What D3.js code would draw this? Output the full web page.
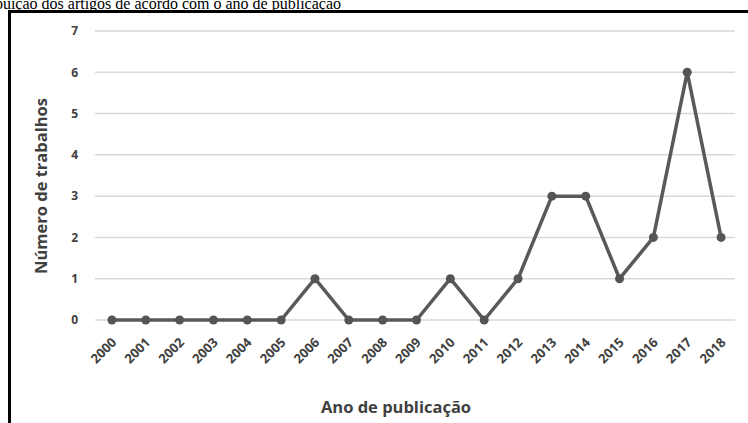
<!DOCTYPE html>
<html>
<head>
<meta charset="utf-8">
<script src="https://cdn.jsdelivr.net/npm/d3@7"></script>
<style>
  body { margin: 0; background: #fff; }
  svg { display: block; }
</style>
</head>
<body>
<div id="chart"></div>
<script>
// Chart data
var years = ["2000", "2001", "2002", "2003", "2004", "2005", "2006", "2007", "2008", "2009",
  "2010", "2011", "2012", "2013", "2014", "2015", "2016", "2017", "2018"];
var counts = [0, 0, 0, 0, 0, 0, 1, 0, 0, 0, 1, 0, 1, 3, 3, 1, 2, 6, 2];
var yTicks = [0, 1, 2, 3, 4, 5, 6, 7];

var svgWidth = 748;
var svgHeight = 423;
var labelFont = "'Open Sans', 'Liberation Sans', sans-serif";

var svg = d3.select("#chart")
  .append("svg")
  .attr("width", svgWidth)
  .attr("height", svgHeight);

// Caption text from the page, partly cut off at the left and top
svg.append("text")
  .attr("x", 341)
  .attr("y", 9)
  .attr("text-anchor", "end")
  .style("font-family", "'Liberation Serif', 'Times New Roman', serif")
  .style("font-size", "16px")
  .style("fill", "#000")
  .text("Distribuição dos artigos de acordo com o ano de publicação");

// Figure frame (top and left edges visible)
svg.append("line")
  .attr("x1", 9.5).attr("x2", svgWidth)
  .attr("y1", 11.5).attr("y2", 11.5)
  .style("stroke", "#000").style("stroke-width", 3);
svg.append("line")
  .attr("x1", 9.5).attr("x2", 9.5)
  .attr("y1", 10).attr("y2", svgHeight)
  .style("stroke", "#000").style("stroke-width", 3);

// Scales
var x = d3.scalePoint()
  .domain(years)
  .range([95, 738])
  .padding(0.5);

var y = d3.scaleLinear()
  .domain([0, 7])
  .range([320, 31]);

// Gridlines
svg.append("g")
  .selectAll("line")
  .data(yTicks)
  .enter()
  .append("line")
  .attr("x1", 95)
  .attr("x2", 735)
  .attr("y1", d => y(d))
  .attr("y2", d => y(d))
  .style("stroke", "#d9d9d9")
  .style("stroke-width", 1.5);

// Y tick labels
svg.append("g")
  .selectAll("text")
  .data(yTicks)
  .enter()
  .append("text")
  .attr("x", 78)
  .attr("y", d => y(d))
  .attr("dy", "0.36em")
  .attr("text-anchor", "end")
  .style("font-family", labelFont)
  .style("font-weight", "bold")
  .style("font-size", "12px")
  .style("fill", "#404040")
  .text(d => d);

// X tick labels, rotated
svg.append("g")
  .selectAll("text")
  .data(years)
  .enter()
  .append("text")
  .attr("transform", d => `translate(${x(d) + 2}, ${340}) rotate(-45)`)
  .attr("text-anchor", "end")
  .attr("dy", "0.36em")
  .style("font-family", labelFont)
  .style("font-weight", "bold")
  .style("font-size", "13px")
  .style("fill", "#404040")
  .text(d => d);

// Axis titles
svg.append("text")
  .attr("x", 396)
  .attr("y", 413)
  .attr("text-anchor", "middle")
  .style("font-family", labelFont)
  .style("font-weight", "bold")
  .style("font-size", "16.5px")
  .style("fill", "#404040")
  .text("Ano de publicação");

svg.append("text")
  .attr("transform", "translate(47, 186) rotate(-90)")
  .attr("text-anchor", "middle")
  .style("font-family", labelFont)
  .style("font-weight", "bold")
  .style("font-size", "16.5px")
  .style("fill", "#404040")
  .text("Número de trabalhos");

// Series line
var line = d3.line()
  .x((d, i) => x(years[i]))
  .y(d => y(d));

svg.append("path")
  .datum(counts)
  .attr("d", line)
  .style("fill", "none")
  .style("stroke", "#595959")
  .style("stroke-width", 3.5)
  .style("stroke-linejoin", "round");

// Markers
svg.append("g")
  .selectAll("circle")
  .data(counts)
  .enter()
  .append("circle")
  .attr("cx", (d, i) => x(years[i]))
  .attr("cy", d => y(d))
  .attr("r", 4.5)
  .style("fill", "#555");
</script>
</body>
</html>
